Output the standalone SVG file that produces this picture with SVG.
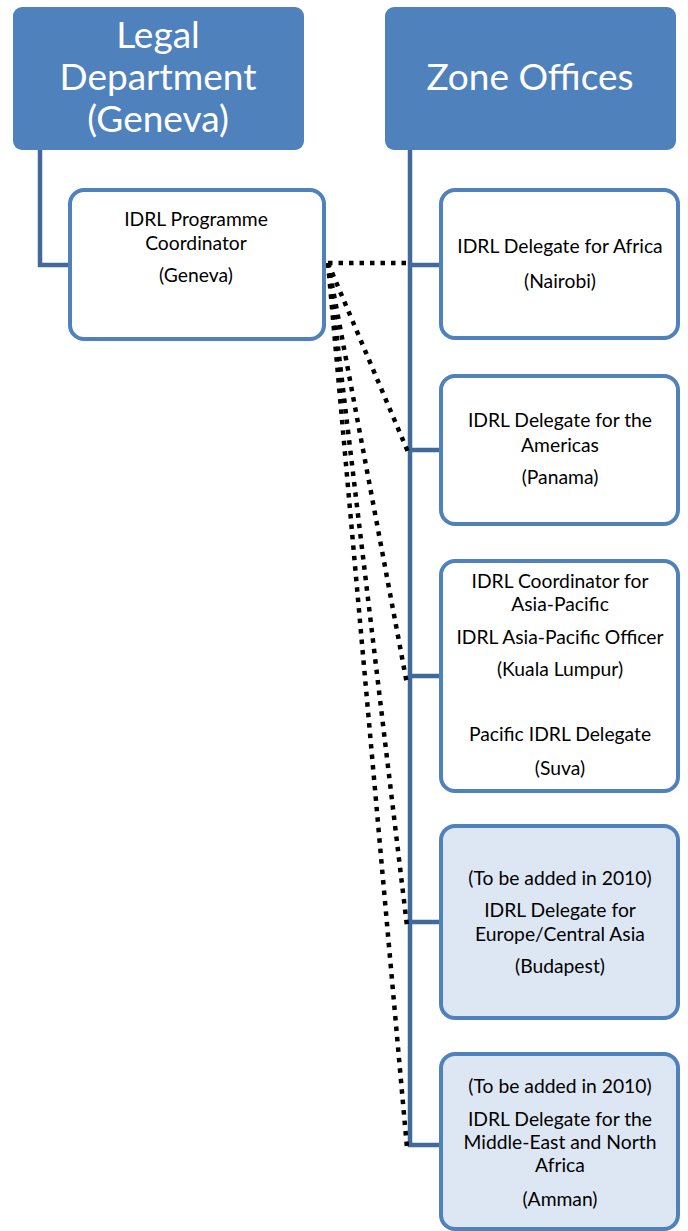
<svg xmlns="http://www.w3.org/2000/svg" width="688" height="1231" viewBox="0 0 688 1231">
<style>
.hdr{fill:#4F81BD;}
.box{fill:#FFFFFF;stroke:#4F81BD;stroke-width:4;}
.boxb{fill:#DDE7F4;stroke:#4F81BD;stroke-width:4;}
.big{font-family:Lato,"Liberation Sans",sans-serif;font-size:37px;fill:#FFFFFF;text-anchor:middle;}
.t{font-family:Lato,"Liberation Sans",sans-serif;font-size:19.3px;fill:#000000;text-anchor:middle;}
.solid{fill:none;stroke:#41699C;stroke-width:4.5;}
.dot{fill:none;stroke:#000000;stroke-width:4.5;stroke-dasharray:4.5 6;}
</style>
<rect width="688" height="1231" fill="#FFFFFF"/>
<g id="connectors">
<path class="solid" d="M40,150 V265 H70"/>
<path class="solid" d="M410,150 V1145 H441"/>
<path class="solid" d="M410,265 H441 M410,450 H441 M410,676 H441 M410,922 H441"/>
<path class="dot" d="M328,263 H408"/>
<path class="dot" d="M328,263 L408,452"/>
<path class="dot" d="M328,263 L407,684"/>
<path class="dot" d="M328,263 L407,926"/>
<path class="dot" d="M328,263 L407,1148"/>
</g>
<g id="legal">
<rect class="hdr" x="13" y="7" width="291" height="143" rx="9"/>
<text class="big" x="158" y="48">Legal</text>
<text class="big" x="158" y="90">Department</text>
<text class="big" x="158" y="132">(Geneva)</text>
</g>
<g id="zone">
<rect class="hdr" x="385" y="7" width="291" height="143" rx="9"/>
<text class="big" x="530" y="90">Zone Offices</text>
</g>
<g id="coordinator">
<rect class="box" x="70" y="190" width="254" height="149" rx="14"/>
<text class="t" x="196" y="226">IDRL Programme</text>
<text class="t" x="196" y="250">Coordinator</text>
<text class="t" x="196" y="282">(Geneva)</text>
</g>
<g id="africa">
<rect class="box" x="441" y="190" width="237" height="148" rx="14"/>
<text class="t" x="560" y="253">IDRL Delegate for Africa</text>
<text class="t" x="560" y="288">(Nairobi)</text>
</g>
<g id="americas">
<rect class="box" x="441" y="376" width="237" height="148" rx="14"/>
<text class="t" x="560" y="427">IDRL Delegate for the</text>
<text class="t" x="560" y="452">Americas</text>
<text class="t" x="560" y="484">(Panama)</text>
</g>
<g id="asiapacific">
<rect class="box" x="441" y="561" width="237" height="230" rx="14"/>
<text class="t" x="560" y="588">IDRL Coordinator for</text>
<text class="t" x="560" y="611">Asia-Pacific</text>
<text class="t" x="560" y="644">IDRL Asia-Pacific Officer</text>
<text class="t" x="560" y="676">(Kuala Lumpur)</text>
<text class="t" x="560" y="741">Pacific IDRL Delegate</text>
<text class="t" x="560" y="775">(Suva)</text>
</g>
<g id="europe">
<rect class="boxb" x="441" y="826" width="237" height="192" rx="14"/>
<text class="t" x="560" y="885">(To be added in 2010)</text>
<text class="t" x="560" y="917">IDRL Delegate for</text>
<text class="t" x="560" y="941">Europe/Central Asia</text>
<text class="t" x="560" y="973">(Budapest)</text>
</g>
<g id="mena">
<rect class="boxb" x="441" y="1054" width="237" height="175" rx="14"/>
<text class="t" x="560" y="1093">(To be added in 2010)</text>
<text class="t" x="560" y="1126">IDRL Delegate for the</text>
<text class="t" x="560" y="1149">Middle-East and North</text>
<text class="t" x="560" y="1172">Africa</text>
<text class="t" x="560" y="1206">(Amman)</text>
</g>
</svg>
